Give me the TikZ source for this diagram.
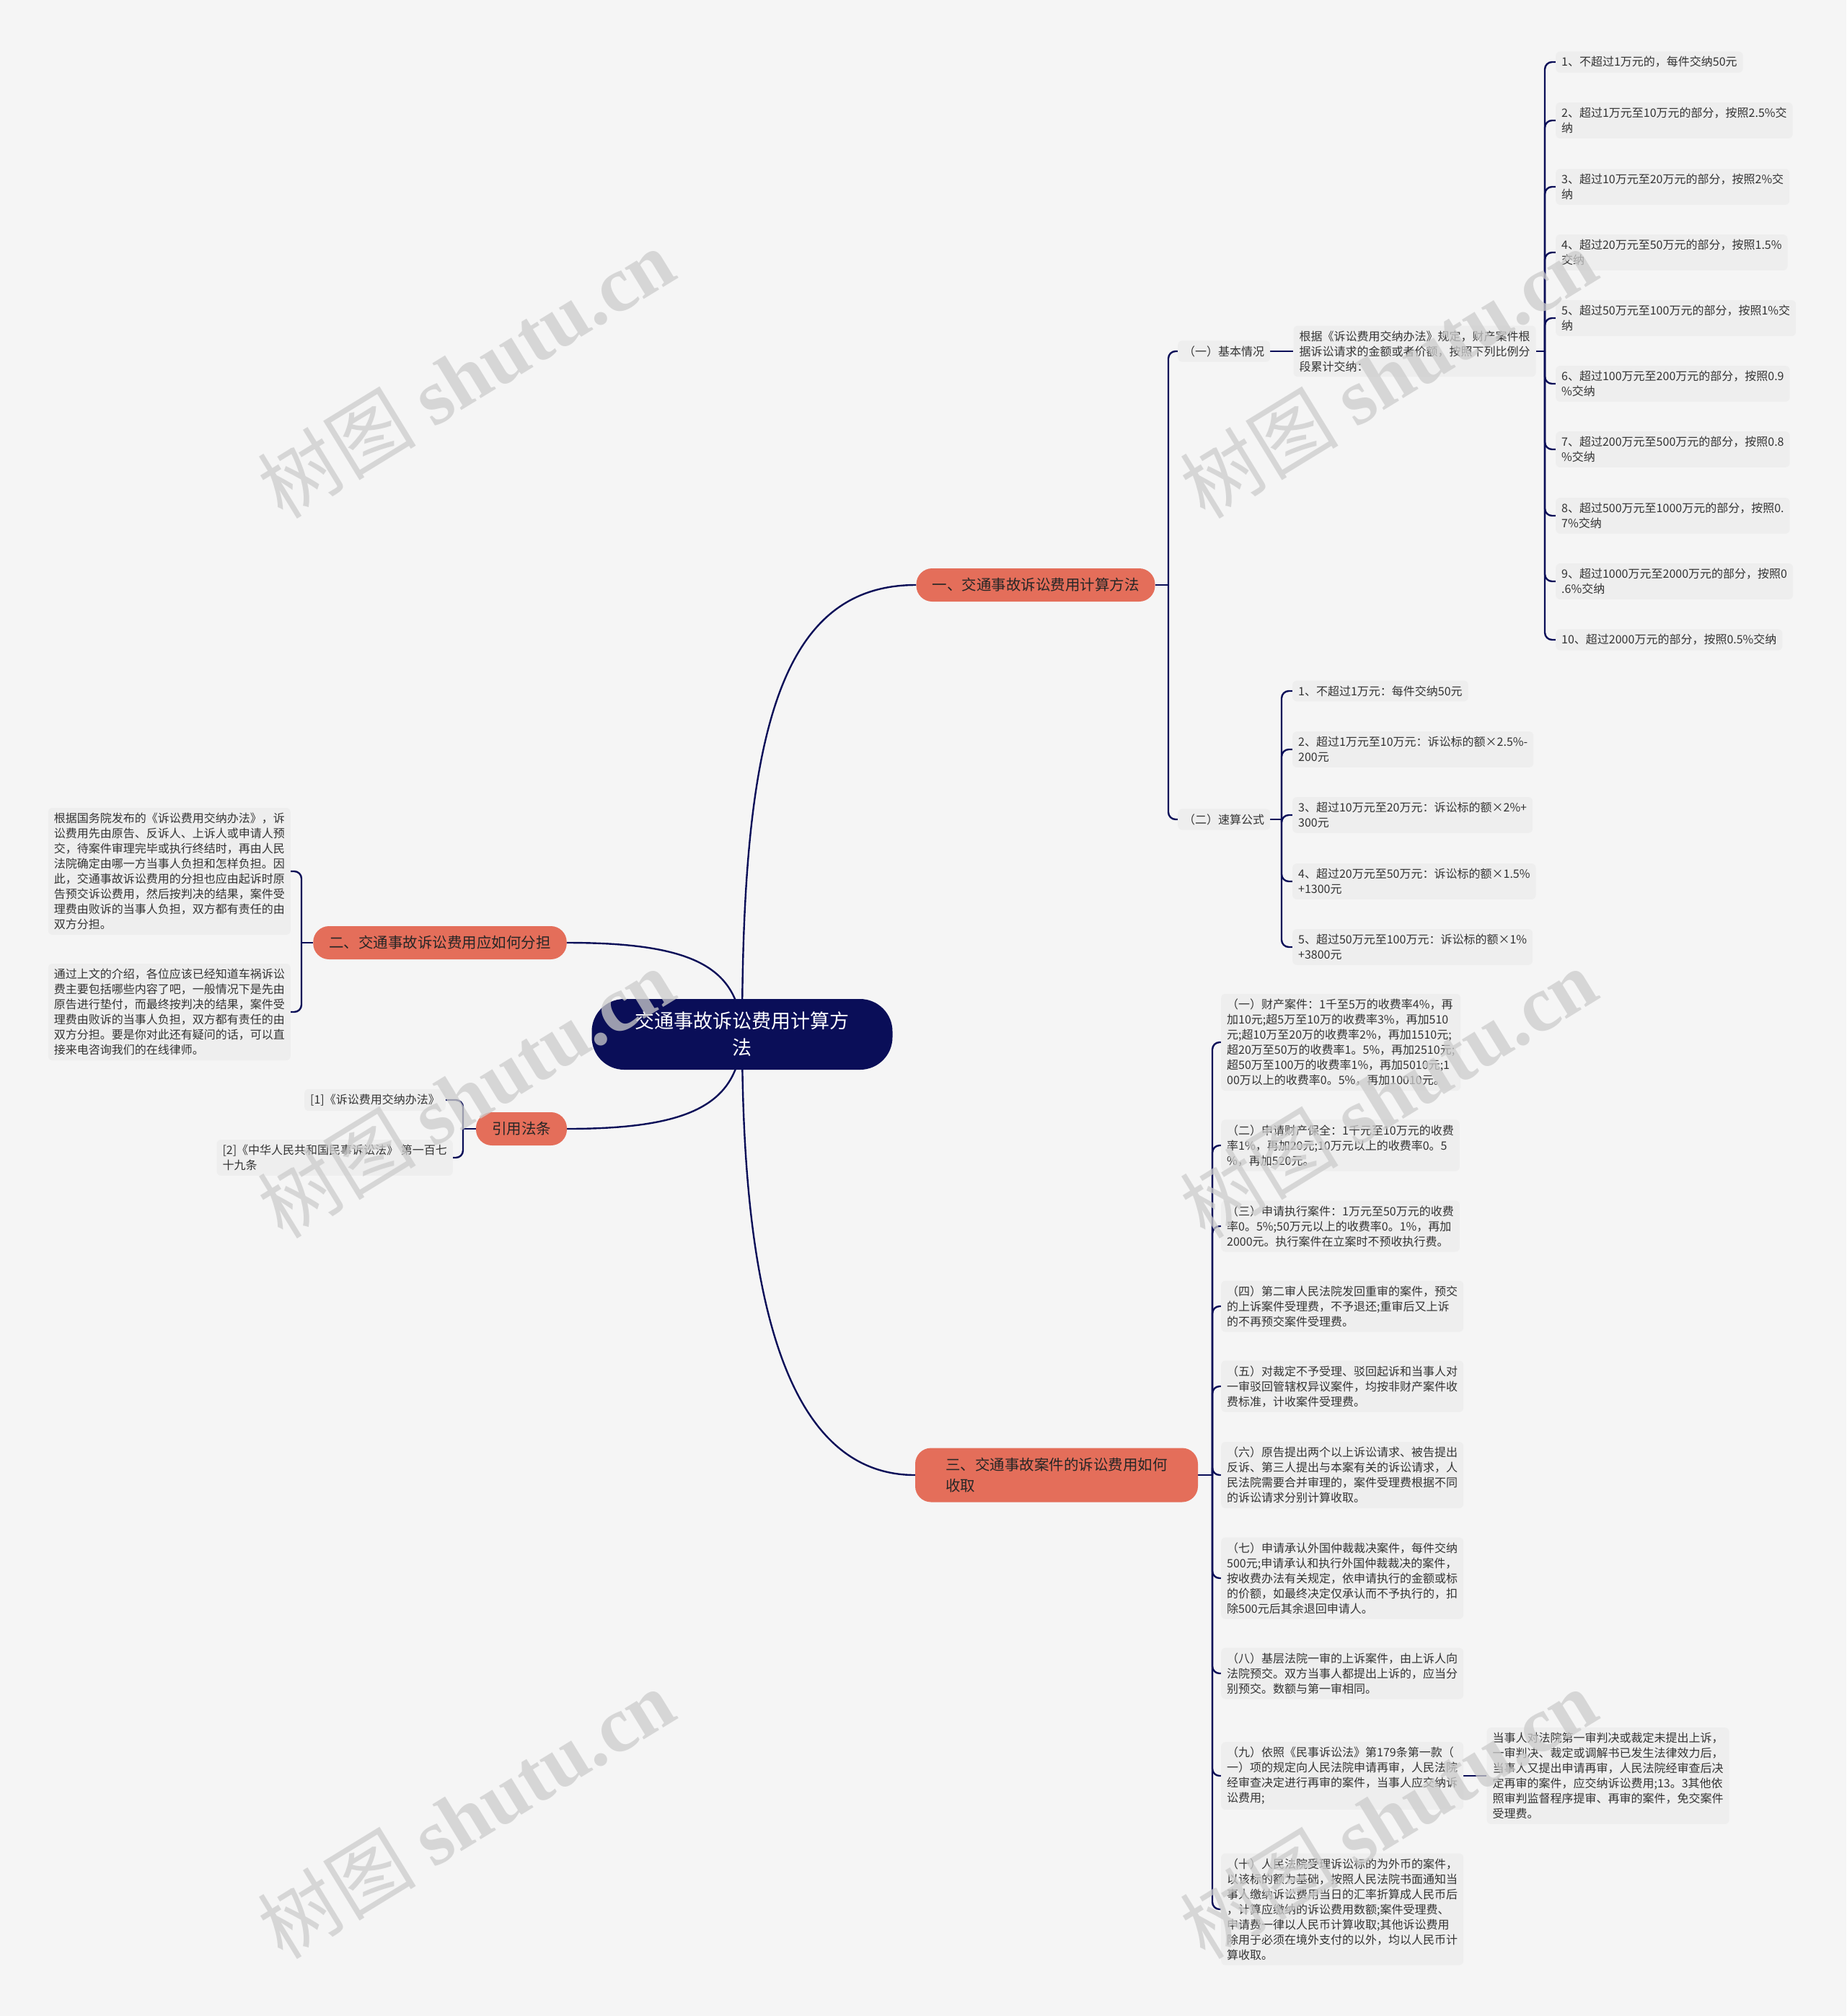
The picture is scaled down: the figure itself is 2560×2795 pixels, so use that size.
\documentclass[tikz,border=0pt]{standalone}
\usepackage{fontspec}
\setmainfont{Noto Sans CJK SC}
\newfontfamily\markfont{Liberation Serif}
\usepackage{tikz}
\usetikzlibrary{positioning}

\definecolor{navy}{RGB}{10,14,88}
\definecolor{coral}{RGB}{228,110,90}
\definecolor{paper}{RGB}{245,245,245}
\definecolor{leafbg}{RGB}{238,238,238}
\definecolor{ink}{RGB}{51,51,51}

\pgfdeclarelayer{back}
\pgfdeclarelayer{links}
\pgfsetlayers{back,links,main}

\begin{document}
\begin{tikzpicture}[
    x=1pt, y=-1pt,
    node distance=32pt,
    rootbox/.style={fill=navy,text=white,rounded corners=45pt,align=center,minimum width=417pt,minimum height=98pt,font=\fontsize{27}{37}\selectfont},
    branch/.style={fill=coral,text=black!85,rounded corners=22pt,align=left,inner xsep=22pt,minimum height=46pt,font=\fontsize{20.5}{28.5}\selectfont},
    leaf/.style={fill=leafbg,text=ink,rounded corners=6pt,align=left,inner xsep=8pt,inner ysep=7pt,font=\fontsize{16}{21}\selectfont},
    link/.style={draw=navy,line width=2.4pt},
    fork/.style={draw=navy,line width=2.4pt,rounded corners=10pt},
    wmark/.style={rotate=31.5,text=black!20,opacity=0.75,font=\fontsize{110}{110}\selectfont}
  ]
    \begin{pgfonlayer}{back}
      \fill[paper] (0,0) rectangle (2560,2795);
    \end{pgfonlayer}
    \useasboundingbox (0,0) rectangle (2560,2795);

    \node[rootbox] (root) at (1029,1434) {交通事故诉讼费用计算方\\法};
    \node[branch] (calc) at (1436,811) {一、交通事故诉讼费用计算方法};
    \node[branch] (share) at (610,1307) {二、交通事故诉讼费用应如何分担};
    \node[branch,minimum width=392pt,minimum height=75pt] (collect) at (1465,2045) {三、交通事故案件的诉讼费用如何\\收取};
    \node[branch] (law) at (723,1565) {引用法条};

    \node[leaf,anchor=west] (basic) at (1633,487) {（一）基本情况};
    \node[leaf,right=of basic] (basicdesc) {根据《诉讼费用交纳办法》规定，财产案件根\\据诉讼请求的金额或者价额，按照下列比例分\\段累计交纳：};
    \node[leaf,anchor=west] (quick) at (1633,1136) {（二）速算公式};

    \node[leaf,anchor=west] (i1) at (2157,86) {1、不超过1万元的，每件交纳50元};
    \node[leaf,anchor=west] (i2) at (2157,167) {2、超过1万元至10万元的部分，按照2.5\%交\\纳};
    \node[leaf,anchor=west] (i3) at (2157,259) {3、超过10万元至20万元的部分，按照2\%交\\纳};
    \node[leaf,anchor=west] (i4) at (2157,350) {4、超过20万元至50万元的部分，按照1.5\%\\交纳};
    \node[leaf,anchor=west] (i5) at (2157,441) {5、超过50万元至100万元的部分，按照1\%交\\纳};
    \node[leaf,anchor=west] (i6) at (2157,532) {6、超过100万元至200万元的部分，按照0.9\\\%交纳};
    \node[leaf,anchor=west] (i7) at (2157,623) {7、超过200万元至500万元的部分，按照0.8\\\%交纳};
    \node[leaf,anchor=west] (i8) at (2157,715) {8、超过500万元至1000万元的部分，按照0.\\7\%交纳};
    \node[leaf,anchor=west] (i9) at (2157,806) {9、超过1000万元至2000万元的部分，按照0\\.6\%交纳};
    \node[leaf,anchor=west] (i10) at (2157,887) {10、超过2000万元的部分，按照0.5\%交纳};

    \node[leaf,anchor=west] (q1) at (1792,958) {1、不超过1万元：每件交纳50元};
    \node[leaf,anchor=west] (q2) at (1792,1039) {2、超过1万元至10万元：诉讼标的额×2.5\%-\\200元};
    \node[leaf,anchor=west] (q3) at (1792,1130) {3、超过10万元至20万元：诉讼标的额×2\%+\\300元};
    \node[leaf,anchor=west] (q4) at (1792,1222) {4、超过20万元至50万元：诉讼标的额×1.5\%\\+1300元};
    \node[leaf,anchor=west] (q5) at (1792,1313) {5、超过50万元至100万元：诉讼标的额×1\%\\+3800元};

    \node[leaf,anchor=east] (s1) at (403,1208) {根据国务院发布的《诉讼费用交纳办法》，诉\\讼费用先由原告、反诉人、上诉人或申请人预\\交，待案件审理完毕或执行终结时，再由人民\\法院确定由哪一方当事人负担和怎样负担。因\\此，交通事故诉讼费用的分担也应由起诉时原\\告预交诉讼费用，然后按判决的结果，案件受\\理费由败诉的当事人负担，双方都有责任的由\\双方分担。};
    \node[leaf,anchor=east] (s2) at (403,1403) {通过上文的介绍，各位应该已经知道车祸诉讼\\费主要包括哪些内容了吧，一般情况下是先由\\原告进行垫付，而最终按判决的结果，案件受\\理费由败诉的当事人负担，双方都有责任的由\\双方分担。要是你对此还有疑问的话，可以直\\接来电咨询我们的在线律师。};

    \node[leaf,anchor=east] (r1) at (618,1525) {[1]《诉讼费用交纳办法》};
    \node[leaf,anchor=east] (r2) at (628,1605) {[2]《中华人民共和国民事诉讼法》 第一百七\\十九条};

    \node[leaf,anchor=west] (z1) at (1693,1445) {（一）财产案件：1千至5万的收费率4\%，再\\加10元;超5万至10万的收费率3\%，再加510\\元;超10万至20万的收费率2\%，再加1510元;\\超20万至50万的收费率1。5\%，再加2510元;\\超50万至100万的收费率1\%，再加5010元;1\\00万以上的收费率0。5\%，再加10010元。};
    \node[leaf,anchor=west] (z2) at (1693,1588) {（二）申请财产保全：1千元至10万元的收费\\率1\%，再加20元;10万元以上的收费率0。5\\\%，再加520元。};
    \node[leaf,anchor=west] (z3) at (1693,1700) {（三）申请执行案件：1万元至50万元的收费\\率0。5\%;50万元以上的收费率0。1\%，再加\\2000元。执行案件在立案时不预收执行费。};
    \node[leaf,anchor=west] (z4) at (1693,1811) {（四）第二审人民法院发回重审的案件，预交\\的上诉案件受理费，不予退还;重审后又上诉\\的不再预交案件受理费。};
    \node[leaf,anchor=west] (z5) at (1693,1922) {（五）对裁定不予受理、驳回起诉和当事人对\\一审驳回管辖权异议案件，均按非财产案件收\\费标准，计收案件受理费。};
    \node[leaf,anchor=west] (z6) at (1693,2045) {（六）原告提出两个以上诉讼请求、被告提出\\反诉、第三人提出与本案有关的诉讼请求，人\\民法院需要合并审理的，案件受理费根据不同\\的诉讼请求分别计算收取。};
    \node[leaf,anchor=west] (z7) at (1693,2188) {（七）申请承认外国仲裁裁决案件，每件交纳\\500元;申请承认和执行外国仲裁裁决的案件，\\按收费办法有关规定，依申请执行的金额或标\\的价额，如最终决定仅承认而不予执行的，扣\\除500元后其余退回申请人。};
    \node[leaf,anchor=west] (z8) at (1693,2320) {（八）基层法院一审的上诉案件，由上诉人向\\法院预交。双方当事人都提出上诉的，应当分\\别预交。数额与第一审相同。};
    \node[leaf,anchor=west] (z9) at (1693,2462) {（九）依照《民事诉讼法》第179条第一款（\\一）项的规定向人民法院申请再审，人民法院\\经审查决定进行再审的案件，当事人应交纳诉\\讼费用;};
    \node[leaf,right=of z9] (retrial) {当事人对法院第一审判决或裁定未提出上诉，\\一审判决、裁定或调解书已发生法律效力后，\\当事人又提出申请再审，人民法院经审查后决\\定再审的案件，应交纳诉讼费用;13。3其他依\\照审判监督程序提审、再审的案件，免交案件\\受理费。};
    \node[leaf,anchor=west] (z10) at (1693,2647) {（十）人民法院受理诉讼标的为外币的案件，\\以该标的额为基础，按照人民法院书面通知当\\事人缴纳诉讼费用当日的汇率折算成人民币后\\，计算应缴纳的诉讼费用数额;案件受理费、\\申请费一律以人民币计算收取;其他诉讼费用\\除用于必须在境外支付的以外，均以人民币计\\算收取。};

    \coordinate (calcfork) at (1620,811);
    \coordinate (ratefork) at (2142,487);
    \coordinate (quickfork) at (1777,1136);
    \coordinate (sharefork) at (418,1307);
    \coordinate (lawfork) at (642,1565);
    \coordinate (collectfork) at (1681,2045);

    \begin{pgfonlayer}{links}
      \draw[link] (root.center) .. controls (1029,1020) and (1080,811) .. (calc.west);
      \draw[link] (root.center) .. controls (1029,1800) and (1090,2045) .. (collect.west);
      \draw[link] (root.center) .. controls (1025,1340) and (960,1307) .. (share.east);
      \draw[link] (root.center) .. controls (1025,1530) and (960,1565) .. (law.east);

      \draw[link] (calc.east) -- (calcfork);
      \draw[fork] (calcfork) |- (basic.west);
      \draw[fork] (calcfork) |- (quick.west);
      \draw[link] (basic) -- (basicdesc);
      \draw[link] (basicdesc.east) -- (ratefork);
      \draw[fork] (ratefork) |- (i1.west);
      \draw[fork] (ratefork) |- (i2.west);
      \draw[fork] (ratefork) |- (i3.west);
      \draw[fork] (ratefork) |- (i4.west);
      \draw[fork] (ratefork) |- (i5.west);
      \draw[fork] (ratefork) |- (i6.west);
      \draw[fork] (ratefork) |- (i7.west);
      \draw[fork] (ratefork) |- (i8.west);
      \draw[fork] (ratefork) |- (i9.west);
      \draw[fork] (ratefork) |- (i10.west);
      \draw[link] (quick.east) -- (quickfork);
      \draw[fork] (quickfork) |- (q1.west);
      \draw[fork] (quickfork) |- (q2.west);
      \draw[fork] (quickfork) |- (q3.west);
      \draw[fork] (quickfork) |- (q4.west);
      \draw[fork] (quickfork) |- (q5.west);

      \draw[link] (share.west) -- (sharefork);
      \draw[fork] (sharefork) |- (s1.east);
      \draw[fork] (sharefork) |- (s2.east);

      \draw[link] (law.west) -- (lawfork);
      \draw[fork] (lawfork) |- (r1.east);
      \draw[fork] (lawfork) |- (r2.east);

      \draw[link] (collect.east) -- (collectfork);
      \draw[fork] (collectfork) |- (z1.west);
      \draw[fork] (collectfork) |- (z2.west);
      \draw[fork] (collectfork) |- (z3.west);
      \draw[fork] (collectfork) |- (z4.west);
      \draw[fork] (collectfork) |- (z5.west);
      \draw[fork] (collectfork) |- (z6.west);
      \draw[fork] (collectfork) |- (z7.west);
      \draw[fork] (collectfork) |- (z8.west);
      \draw[fork] (collectfork) |- (z9.west);
      \draw[fork] (collectfork) |- (z10.west);
      \draw[link] (z9) -- (retrial);
    \end{pgfonlayer}

    \node[wmark] (wm1) at (646,517) {树图 {\markfont\bfseries shutu.cn}};
    \node[wmark] (wm2) at (1925,517) {树图 {\markfont\bfseries shutu.cn}};
    \node[wmark] (wm3) at (646,1515) {树图 {\markfont\bfseries shutu.cn}};
    \node[wmark] (wm4) at (1925,1515) {树图 {\markfont\bfseries shutu.cn}};
    \node[wmark] (wm5) at (646,2514) {树图 {\markfont\bfseries shutu.cn}};
    \node[wmark] (wm6) at (1925,2514) {树图 {\markfont\bfseries shutu.cn}};
  \end{tikzpicture}
\end{document}
